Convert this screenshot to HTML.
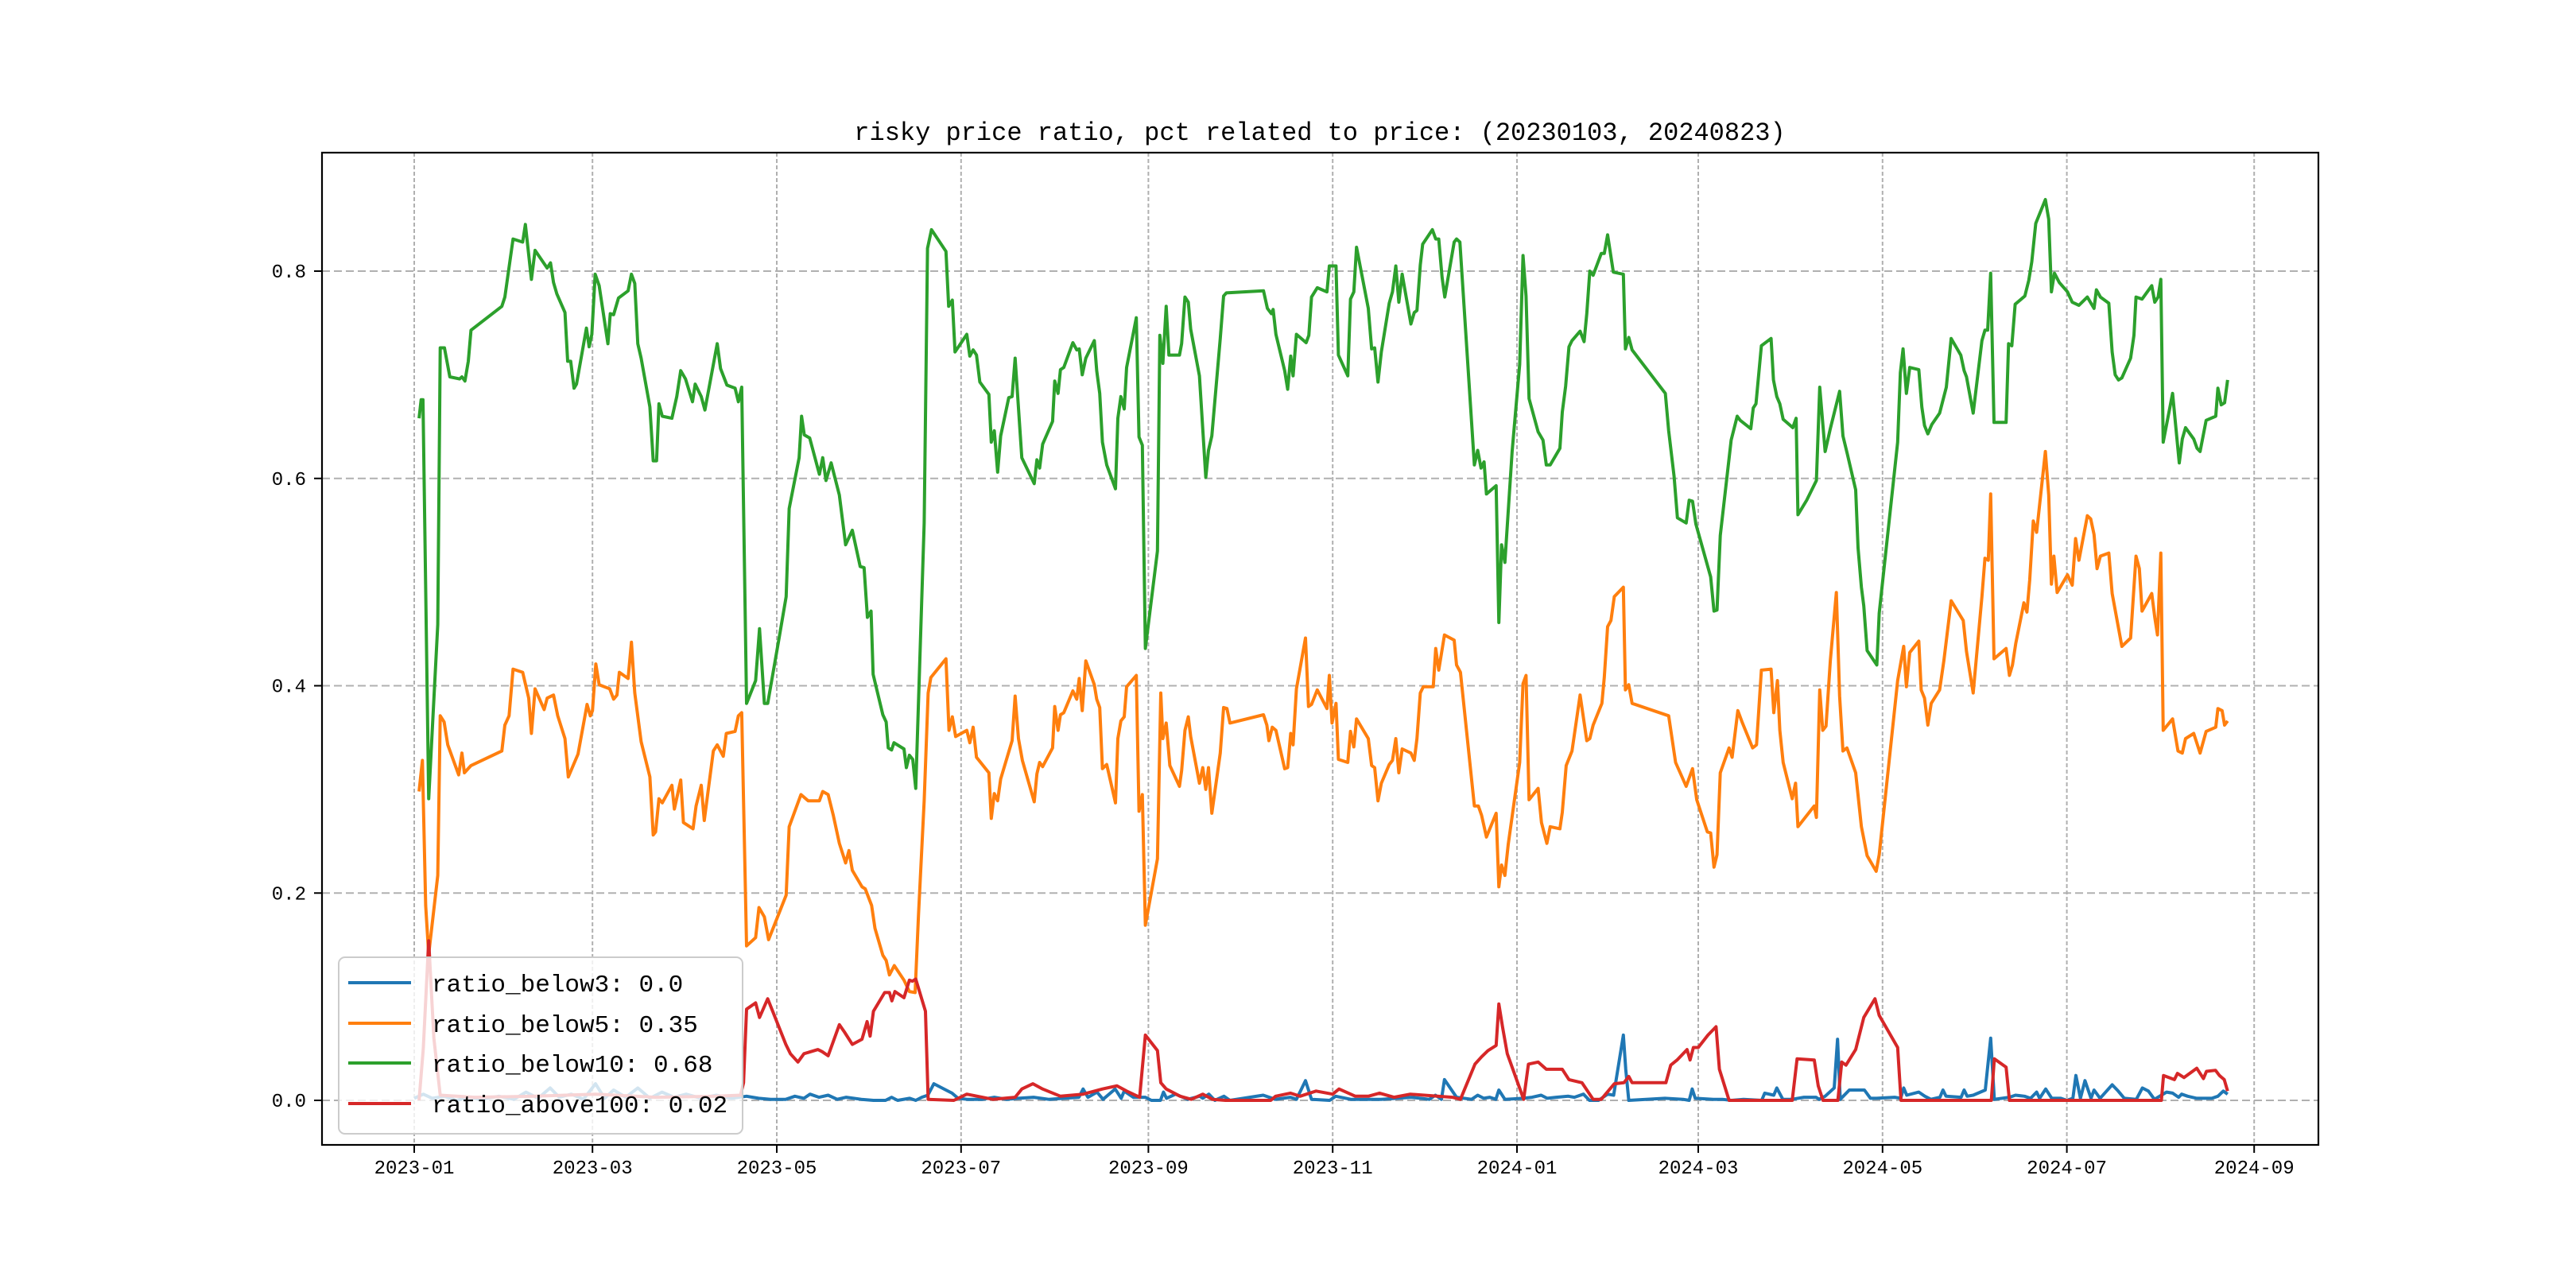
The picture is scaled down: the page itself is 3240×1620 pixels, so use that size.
<!DOCTYPE html>
<html><head><meta charset="utf-8"><style>
html,body{margin:0;padding:0;background:#fff;}
svg{display:block;}
text{font-family:"Liberation Mono","Noto Sans CJK SC",monospace;fill:#000;}
</style></head><body>
<svg id="chart" width="3240" height="1620" viewBox="0 0 3240 1620" xmlns="http://www.w3.org/2000/svg">
<rect x="0" y="0" width="3240" height="1620" fill="#fff"/>
<text x="1660" y="176" font-size="32" text-anchor="middle">risky price ratio, pct related to price: (20230103, 20240823)</text>
<g id="grid"></g><g id="series"></g><g id="axes"></g><g id="legend"></g>
</svg>
<script>
const xTickDays=[0,59,120,181,243,304,365,425,486,547,609];
const xTickLabels=["2023-01","2023-03","2023-05","2023-07","2023-09","2023-11","2024-01","2024-03","2024-05","2024-07","2024-09"];
const yTickVals=[0,0.2,0.4,0.6,0.8];
const yTickLabels=["0.0","0.2","0.4","0.6","0.8"];
const seriesNames=["ratio_below3: 0.0","ratio_below5: 0.35","ratio_below10: 0.68","ratio_above100: 0.02"];
const below3Days=[0,3,6,10,14,18,22,28,33,37,41,45,48,52,56,60,63,66,70,74,78,82,86,90,95,100,105,110,114,118,123,126,129,131,134,137,140,143,148,152,156,158,160,164,166,168,170,172,176,178,180,183,188,192,196,200,205,210,215,220,221.4,223,226,228,232,234,235,238,242,244,247,248,249,252,256,260,261,263,265,268,270,281,285,290,292,295,297,303,305,310,320,330,336,338,340,341,345,350,352,354,356,358,359,361,367,370,373,375,378,382,384,387,389,392,395,397,400.2,401,402,414,420,422,423,424,430,433,436,440,446,447,450,451,453,456,460,464,465,467,470,471.1,472,475,480,482,484,490,492,493,494,498,500,502,505,506,507,512,513,514,516,520,521.8,523,528,530,533,535,537,538,540,542,545,547,549,550,551.5,553,555,556,558,562,564,566,570,572,574,576,580,582,584,585,587,590,595,597,598.8,600.2];
const below3Vals=[.002,.006,.002,.004,0,.003,.001,.004,.001,.008,.002,.012,.003,.006,.001,.016,.002,.010,.003,.012,.002,.008,.003,.006,.002,.005,.002,.004,.002,.001,.001,.004,.002,.006,.003,.005,.001,.003,.001,0,0,.003,0,.002,0,.003,.005,.016,.010,.007,.002,.001,.001,.003,.001,.002,.003,.001,.002,.003,.011,.003,.008,.001,.011,.002,.009,.003,.003,0,0,.008,.002,.006,.001,.004,.002,.006,0,.004,0,.005,.001,.003,.001,.019,.001,0,.004,.001,.001,.003,.001,.005,.001,.020,.003,.001,.005,.002,.003,.001,.010,.001,.002,.003,.005,.002,.003,.004,.003,.006,0,0,.006,.005,.063,.030,0,.002,.001,0,.011,.002,.001,.001,0,.001,0,.007,.005,.012,.001,.001,.003,.003,.001,.004,.012,.059,.001,.010,.010,.002,.002,.003,.002,.012,.005,.008,.004,.001,.003,.010,.004,.003,.010,.004,.005,.010,.060,.001,.003,.005,.004,.002,.008,.002,.011,.002,.002,0,.002,.024,.002,.019,.002,.010,.002,.015,.009,.002,.001,.012,.009,.001,.008,.007,.003,.006,.004,.002,.002,.004,.009,.006];
const below5Days=[1.6,2.7,3.8,4.8,7.8,8.6,9.9,11.1,14.7,15.8,16.6,18.8,29,30,31.4,32.7,35.9,37.9,38.8,40,43,44,46.1,47.5,49.9,51,52.6,54.2,57.2,58.3,59,60.1,61.2,64.7,66,67.1,67.9,70.8,71.9,73,75.1,78,79.1,79.9,81,82.1,85.3,86.1,88.2,89.1,92.3,93.3,95,96,99,100.3,102.3,103.3,106.2,107.3,108.4,110,113,114.1,115.9,117.3,123.1,124.1,128,130.4,134.1,135.2,137,138.7,140.7,142.8,143.9,145,148.2,149.3,151.4,152.5,155.1,156.2,157.3,158.9,162.1,163.9,165.8,166.9,168.8,170.1,171,176,177,178.1,179.2,182.9,183.9,185,186.1,190.2,191,192,193.1,194.1,197.9,198.9,200,201.3,205.2,206.1,207,208,211.3,212,213.1,213.9,215,218,219.3,220.1,221.1,222.3,225.1,225.9,226.9,227.8,229.2,232.1,232.9,233.9,235,235.8,239,239.9,241,242,246,247.1,247.8,248.9,250.1,253.3,254,255.1,256.2,257,259.9,261,262,262.9,264,266.8,267.9,269,270,281.1,282.2,282.9,284,285.2,288.1,289.1,290.1,290.9,292,295,296,297,298.9,302.1,302.9,303.8,305.1,305.9,309,309.9,311,311.9,315.8,316.9,317.9,319,320.1,322.7,323.8,324.9,325.9,327,329.9,331,331.9,333,334,337.3,338.1,339.1,341,344.2,345,346.3,350.9,352.2,353.3,354.9,358.1,359,359.9,361,362.1,365.9,367,368,369,372,373.1,374.9,376,379.2,380,381.3,383.2,385.9,388.1,389.1,390.2,393.1,393.9,395,396.1,397.2,400.2,400.9,402,403.1,415.2,417.5,421,423.1,424.5,428,429.1,430.2,431.2,432.3,435.2,436.2,438.1,439.5,443,444.3,445.9,449.1,450,451.2,452,453.1,456.1,457.2,458,463.4,464.1,465.2,466.2,467.3,468.7,470.7,471.8,472.9,474.2,477.1,479,480.9,483.9,484.9,491,493,493.9,495,498,498.8,499.9,501,502.1,504.9,506.3,508.7,512.7,513.8,516,518.9,519.9,521,521.8,522.9,526.9,528,529,530.1,532.8,533.8,534.7,535.9,537,539.9,541,541.9,542.7,543.8,547.2,548.8,549.9,551,553.8,554.9,556,557,558.1,560.9,562,565.2,568.1,569.9,571,571.9,575.1,576.1,577,578.1,578.9,582,583.8,585.2,586.3,589,591.1,593.1,596.3,597,598.4,599.2,600.2];
const below5Vals=[.298,.328,.188,.141,.217,.371,.365,.343,.314,.335,.316,.323,.337,.362,.371,.416,.413,.388,.354,.397,.377,.388,.391,.371,.349,.312,.323,.334,.382,.371,.376,.421,.401,.397,.387,.391,.413,.407,.442,.393,.346,.312,.256,.259,.291,.287,.304,.281,.309,.268,.262,.284,.304,.270,.337,.343,.332,.354,.356,.371,.374,.149,.157,.186,.177,.155,.198,.264,.295,.289,.289,.298,.295,.275,.248,.229,.241,.222,.206,.204,.188,.166,.140,.135,.121,.130,.116,.105,.104,.178,.289,.393,.408,.426,.357,.370,.351,.357,.345,.360,.331,.316,.272,.296,.289,.310,.347,.390,.349,.328,.288,.315,.326,.322,.340,.380,.357,.372,.374,.395,.387,.407,.376,.424,.401,.387,.379,.320,.324,.287,.349,.366,.370,.399,.410,.279,.295,.169,.233,.393,.349,.364,.323,.303,.318,.357,.370,.351,.306,.321,.300,.321,.277,.335,.379,.378,.364,.372,.362,.347,.360,.357,.320,.321,.354,.343,.397,.446,.380,.382,.396,.378,.410,.364,.383,.329,.326,.356,.341,.368,.349,.323,.321,.289,.306,.324,.328,.349,.316,.339,.335,.328,.349,.393,.399,.399,.436,.415,.449,.444,.420,.413,.284,.284,.275,.254,.277,.206,.227,.217,.247,.326,.402,.410,.290,.301,.268,.248,.264,.262,.278,.323,.337,.391,.347,.349,.362,.383,.408,.457,.463,.486,.495,.396,.401,.383,.371,.326,.303,.320,.290,.259,.258,.225,.237,.316,.340,.331,.376,.365,.340,.343,.415,.416,.374,.405,.357,.326,.291,.306,.264,.284,.273,.396,.357,.361,.424,.490,.390,.337,.340,.316,.264,.236,.221,.237,.405,.438,.399,.432,.443,.396,.388,.362,.383,.396,.424,.482,.463,.433,.393,.486,.523,.521,.585,.426,.436,.410,.420,.441,.480,.471,.502,.559,.548,.626,.584,.498,.525,.490,.507,.497,.542,.521,.564,.561,.546,.513,.525,.528,.489,.438,.446,.525,.513,.472,.489,.466,.449,.528,.357,.368,.337,.335,.349,.354,.335,.356,.360,.378,.376,.362,.366];
const below10Days=[1.6,2.3,2.9,4.8,7.8,8.6,10,11.8,15,15.8,16.8,17.9,18.8,29,30,32.7,35.9,36.8,38.8,40,44,45.1,46.1,47.2,49.9,50.8,51.8,52.9,53.7,57,57.9,58.8,59.9,61.2,64.1,64.9,66,67.6,70.8,71.9,73,74,75.1,78,79.1,80.2,81,82.1,85.3,86.9,88.2,89.8,92.1,93,95,96.2,100.3,101.4,103.5,106.2,107.3,108.4,110,113,114.3,115.9,117,120.7,123.1,124.1,127.4,128.2,129.1,130.9,134.1,135.2,136.3,138,140.7,142.8,145,147.6,148.9,150,151.2,151.9,155.1,156.2,156.9,158,158.8,162.1,162.9,163.9,165,166,168.8,169.9,171.2,176,176.9,178.1,179,182.9,183.9,185,186.1,187.2,190.2,191,192,193.1,194.1,196.8,197.9,198.9,201.1,205.2,206.1,207,208,211.3,212,213.1,213.9,215,218,219.3,220.1,221.1,222.3,225.1,225.9,226.9,227.8,229.2,232.1,232.9,233.9,235,235.8,239,239.9,241,242,246,246.8,247.8,248.9,249.8,253.3,254,255.1,256.2,257,259.9,262,262.9,264,266.8,267.9,268.8,281.1,282.4,283.7,284.3,285.2,288.1,289.1,290.1,290.9,292,295.2,296.1,297,298.9,302.1,302.9,305.1,305.9,309,309.9,311,311.9,315.8,316.9,317.9,319,320.1,322.7,323.8,324.9,325.9,327,329.9,331,331.9,333,333.8,337,338.1,339.1,340.2,341.1,344.2,345,346.1,350.9,352,353.1,354.1,354.9,358.1,359,359.9,361,363.4,365.9,367,368,369,372,373.6,374.7,376,379.2,380,381.1,382.2,383.2,385.9,387.2,388.1,389.1,390.2,392.9,393.9,395,396.9,400.2,400.9,402,403.1,414.1,415.2,417,418.1,421,422,423.1,424.2,429.1,430.2,431.2,432.3,435.9,437.9,438.9,442.4,443.2,444.1,445.9,449.1,449.9,451,452,453.1,456.3,457.4,458,460.9,464.1,465.2,467,468.7,471.8,472.9,474.4,477.1,477.9,479,479.8,480.9,484.1,484.9,491,491.9,492.8,493.9,495,498,499,499.9,501,502.3,504.9,507.1,508.7,511.9,513,513.8,516,518.9,519.9,520.8,521.8,522.9,526.9,527.7,528.8,529.9,533.1,534.4,535.4,536.7,539.9,541,541.9,542.9,544.5,547.2,548.8,551,553.8,556,556.8,558.1,560.9,562,563,564.1,565.2,568.1,569.2,569.9,571.9,575.1,576.1,577.2,578.1,578.9,582,584.2,585.2,586.3,589,590.1,591.1,593.1,596.3,597,598.1,599.2,600.2];
const below10Vals=[.658,.676,.676,.291,.459,.726,.726,.698,.696,.698,.694,.713,.743,.766,.775,.831,.828,.845,.792,.820,.803,.808,.789,.778,.760,.713,.713,.687,.691,.745,.727,.739,.797,.786,.730,.759,.758,.774,.781,.797,.788,.730,.716,.669,.617,.617,.672,.660,.658,.679,.704,.696,.674,.691,.679,.666,.730,.706,.690,.687,.674,.688,.383,.405,.455,.383,.383,.445,.486,.571,.620,.660,.642,.639,.604,.620,.598,.615,.584,.536,.550,.515,.514,.466,.472,.411,.372,.365,.340,.338,.345,.339,.321,.333,.329,.301,.557,.822,.840,.819,.766,.772,.722,.739,.718,.724,.719,.693,.681,.635,.646,.606,.641,.678,.679,.716,.620,.595,.618,.610,.633,.655,.694,.682,.705,.707,.731,.724,.725,.700,.716,.733,.704,.682,.635,.613,.590,.658,.679,.667,.707,.755,.640,.632,.436,.530,.738,.711,.766,.719,.719,.730,.775,.770,.744,.699,.601,.627,.641,.735,.776,.779,.781,.764,.759,.763,.739,.704,.686,.718,.699,.739,.731,.738,.775,.784,.780,.805,.805,.719,.699,.773,.780,.823,.764,.725,.726,.693,.722,.769,.780,.805,.770,.797,.749,.760,.762,.806,.826,.840,.831,.831,.794,.775,.828,.831,.828,.613,.627,.610,.616,.585,.593,.461,.536,.519,.626,.710,.815,.776,.677,.645,.637,.613,.613,.629,.664,.689,.727,.733,.742,.732,.759,.800,.796,.817,.817,.835,.799,.797,.725,.736,.724,.682,.646,.602,.562,.557,.579,.578,.556,.505,.472,.473,.545,.637,.660,.656,.648,.668,.672,.728,.735,.695,.679,.672,.657,.649,.658,.565,.579,.598,.688,.626,.648,.684,.641,.623,.589,.533,.495,.477,.434,.420,.470,.635,.702,.725,.682,.707,.705,.669,.651,.643,.652,.663,.688,.735,.719,.704,.698,.663,.733,.743,.743,.798,.654,.654,.730,.728,.768,.776,.791,.809,.846,.869,.850,.780,.798,.789,.780,.770,.767,.775,.764,.782,.775,.769,.722,.700,.695,.697,.716,.738,.775,.773,.786,.770,.775,.792,.635,.682,.615,.638,.649,.638,.629,.626,.656,.660,.687,.671,.673,.695];
const above100Days=[1.6,3,4.8,6.5,8.6,20,40,60,80,100,108,109,110,113,114.3,117,123,124.5,127,129,133.6,135,137,140.7,142.4,145,148.2,149.9,150.9,152,155.7,157.3,158.1,159.1,162.1,163.9,164.9,166,169.2,170.1,178.6,182.9,191.5,198.9,201.1,204.8,208,213.9,221.4,227.8,232.6,235.8,240.1,242,246,247.1,248.9,253.5,257.2,261,264.2,268.5,283.5,285.1,290,293.2,298.5,304,306.1,311.5,315.8,319.5,324.3,329.7,343.6,346.3,351.1,353.3,355.4,358.1,359,360.2,361.8,367.2,368.8,372,374.7,380,382.2,386.5,390.2,392.9,397.2,400.4,402,403.1,414.3,415.9,418,421.3,422.3,423.4,425,428.2,430.9,432,435.2,456.1,457.7,463.4,464.7,466.3,471.2,472.5,473.9,477.1,479.8,483.5,484.9,491,492.1,522,523,526.9,528,578.3,579,582.6,583.6,585.8,590,592.2,593.2,596.2,597.5,599.1,600.2];
const above100Vals=[0,.05,.154,.06,.005,.003,.004,.006,.003,.004,.005,.017,.088,.094,.080,.098,.054,.045,.037,.045,.049,.047,.043,.073,.066,.054,.059,.076,.062,.086,.104,.104,.096,.105,.099,.116,.115,.117,.086,.001,0,.006,.001,.003,.011,.016,.011,.004,.006,.011,.014,.009,.003,.063,.048,.017,.011,.004,.001,.006,.001,0,0,.004,.007,.004,.009,.006,.011,.004,.004,.007,.003,.006,.003,.001,.035,.042,.048,.053,.093,.071,.045,.001,.035,.037,.030,.030,.020,.017,.001,.001,.016,.017,.023,.017,.017,.034,.039,.049,.039,.051,.051,.063,.071,.030,0,0,.040,.039,.014,0,0,.037,.034,.049,.080,.098,.082,.051,0,0,.040,.032,0,0,.024,.020,.026,.022,.031,.021,.028,.029,.024,.020,.009];

const NS="http://www.w3.org/2000/svg";
const L=405,R=2916,T=192,B=1440;
function xScale(d){return 521+d*3.80;}
function yScale(v){return 1384-v*1303.75;}
function mk(tag,attrs,parent){const e=document.createElementNS(NS,tag);for(const k in attrs)e.setAttribute(k,attrs[k]);parent.appendChild(e);return e;}
const grid=document.getElementById('grid'),axes=document.getElementById('axes'),ser=document.getElementById('series'),leg=document.getElementById('legend');

xTickDays.forEach((d,i)=>{
  const x=xScale(d);
  const g=mk('line',{x1:x,x2:x,y1:T,y2:B,stroke:'#b0b0b0','stroke-width':2,'stroke-dasharray':'5,3'},grid);
  
  
  const t=mk('line',{x1:x,x2:x,y1:B,y2:B+10,stroke:'#000','stroke-width':2},axes);
  
  
  const lb=mk('text',{x:x,y:B+36,'font-size':24,'text-anchor':'middle'},axes);
  lb.textContent=xTickLabels[i];
  
  
});
yTickVals.forEach((v,i)=>{
  const y=yScale(v);
  const g=mk('line',{x1:L,x2:R,y1:y,y2:y,stroke:'#b0b0b0','stroke-width':2,'stroke-dasharray':'10,5'},grid);
  
  
  const t=mk('line',{x1:L-10,x2:L,y1:y,y2:y,stroke:'#000','stroke-width':2},axes);
  
  
  const lb=mk('text',{x:L-20,y:y+8,'font-size':24,'text-anchor':'end'},axes);
  lb.textContent=yTickLabels[i];
  
  
});
const frame=mk('rect',{x:L,y:T,width:R-L,height:B-T,fill:'none',stroke:'#000','stroke-width':2.2},axes);



const colors=['#1f77b4','#ff7f0e','#2ca02c','#d62728'];
const allDays=[below3Days,below5Days,below10Days,above100Days];
const allVals=[below3Vals,below5Vals,below10Vals,above100Vals];
const lineNames=['line-ratio-below3','line-ratio-below5','line-ratio-below10','line-ratio-above100'];
for(let s=0;s<4;s++){
  const pts=allDays[s].map((d,i)=>xScale(d).toFixed(1)+','+yScale(allVals[s][i]).toFixed(1)).join(' ');
  const p=mk('polyline',{points:pts,fill:'none',stroke:colors[s],'stroke-width':4,'stroke-linejoin':'round'},ser);
  
  
}
const box=mk('rect',{x:426,y:1204,width:508,height:222,rx:8,fill:'#fff','fill-opacity':0.8,stroke:'#cccccc','stroke-width':2},leg);


const rowY=[1236,1287,1337,1388];
for(let s=0;s<4;s++){
  const ln=mk('line',{x1:438,x2:517,y1:rowY[s],y2:rowY[s],stroke:colors[s],'stroke-width':4},leg);
  
  
  const tx=mk('text',{x:543,y:rowY[s]+11,'font-size':31},leg);
  tx.textContent=seriesNames[s];
  
  
}
</script>
</body></html>
